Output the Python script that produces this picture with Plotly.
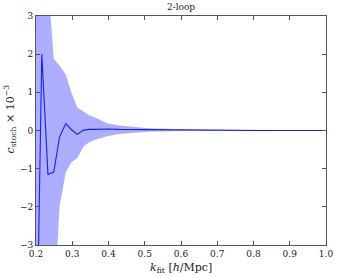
import plotly.graph_objects as go

# k_fit grid [h/Mpc]
k_fit = [0.2, 0.216, 0.233, 0.249, 0.265, 0.282, 0.298, 0.314, 0.331, 0.347,
         0.363, 0.396, 0.429, 0.51, 0.6, 0.7, 0.8, 0.9, 1.0]
# c_stoch x 1e-3 best fit
c_stoch = [-7.0, 2.0, -1.15, -1.09, -0.17, 0.18, 0.02, -0.1, 0.01, 0.03,
           0.03, 0.04, 0.03, 0.02, 0.01, 0.0, 0.0, 0.0, 0.0]
# error band
c_upper = [10.0, 7.0, 3.9, 1.88, 1.70, 1.47, 0.99, 0.60, 0.50, 0.40,
           0.34, 0.19, 0.13, 0.06, 0.03, 0.02, 0.015, 0.01, 0.005]
c_lower = [-10.0, -8.0, -6.0, -4.7, -2.0, -1.1, -0.83, -0.72, -0.42, -0.31,
           -0.24, -0.15, -0.09, -0.03, -0.015, -0.01, -0.01, -0.005, -0.005]

x_ticks = [0.2, 0.3, 0.4, 0.5, 0.6, 0.7, 0.8, 0.9, 1.0]
y_ticks = [-3, -2, -1, 0, 1, 2, 3]

FONT = "DejaVu Serif"

fig = go.Figure()
fig.add_trace(go.Scatter(x=k_fit, y=c_lower, mode="lines", line=dict(width=0),
                         showlegend=False, hoverinfo="skip"))
fig.add_trace(go.Scatter(x=k_fit, y=c_upper, mode="lines", line=dict(width=0),
                         fill="tonexty", fillcolor="rgba(0,0,255,0.32)",
                         showlegend=False, hoverinfo="skip"))
fig.add_trace(go.Scatter(x=k_fit, y=c_stoch, mode="lines",
                         line=dict(color="#1a1aff", width=1.1), showlegend=False))

axis_common = dict(showgrid=False, zeroline=False, showline=True, mirror="ticks",
                   linecolor="#555555", linewidth=1, ticks="inside", ticklen=4,
                   tickcolor="#555555", tickfont=dict(family=FONT, size=9, color="#222"))

fig.update_layout(
    width=344, height=278,
    margin=dict(l=36, r=11, t=15, b=33),
    paper_bgcolor="white", plot_bgcolor="white",
    font=dict(family=FONT, color="#222"),
    title=dict(text="2-loop", x=0.5, xref="paper", xanchor="center",
               y=0.975, yref="container", yanchor="middle",
               font=dict(family=FONT, size=9, color="#222")),
    xaxis=dict(range=[0.2, 1.0], tickvals=x_ticks,
               ticktext=[f"{v:.1f}" for v in x_ticks], **axis_common),
    yaxis=dict(range=[-3, 3], tickvals=y_ticks, **axis_common),
    annotations=[
        dict(text="<i>k</i><sub>fit</sub> [<i>h</i>/Mpc]", xref="paper", yref="paper",
             x=0.5, y=-0.1, xanchor="center", yanchor="middle", showarrow=False,
             font=dict(family=FONT, size=11, color="#222")),
        dict(text="<i>c</i><sub>stoch</sub> × 10<sup>−3</sup>", xref="paper", yref="paper",
             x=-0.088, y=0.55, xanchor="center", yanchor="middle", showarrow=False,
             textangle=-90, font=dict(family=FONT, size=11, color="#222")),
    ],
)

fig.write_html("out.html", config={"displayModeBar": False},
               post_script="document.body.style.margin='0';document.body.style.padding='0';")
